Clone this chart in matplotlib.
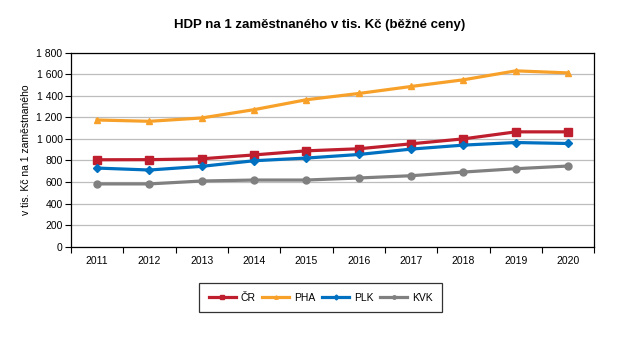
import numpy as np
import matplotlib
matplotlib.use("Agg")
import matplotlib.pyplot as plt
from matplotlib.ticker import FuncFormatter, FixedLocator

plt.rcParams['font.family'] = ['Liberation Sans', 'DejaVu Sans']

years = ['2011', '2012', '2013', '2014', '2015', '2016', '2017', '2018', '2019', '2020']
cr  = [806, 807, 815, 851, 889, 908, 954, 1000, 1065, 1065]
pha = [1175, 1163, 1194, 1271, 1363, 1421, 1486, 1548, 1631, 1612]
plk = [729, 711, 745, 797, 822, 855, 905, 942, 966, 957]
kvk = [582, 582, 609, 618, 618, 637, 658, 692, 723, 748]

series = [
    ('ČR',  cr,  '#BE1E2D', 's', 5.5),
    ('PHA', pha, '#F7A12A', '^', 4),
    ('PLK', plk, '#0070C0', 'D', 4),
    ('KVK', kvk, '#808080', 'o', 5),
]

fig = plt.figure(figsize=(6.39, 3.44), dpi=100)
ax = fig.add_axes([0.111, 0.283, 0.819, 0.564])

x = np.arange(len(years))
handles = []
for name, vals, color, marker, ms in series:
    ax.plot(x, vals, color=color, lw=2.3, marker=marker, ms=ms, zorder=3)
    h, = ax.plot([], [], color=color, lw=2.3, marker=marker, ms=2.5, label=name)
    handles.append(h)

ax.set_xlim(-0.5, len(years) - 0.5)
ax.set_ylim(0, 1800)
ax.set_yticks(np.arange(0, 1801, 200))
ax.yaxis.set_major_formatter(FuncFormatter(lambda v, p: f'{int(v):,}'.replace(',', ' ')))
ax.set_xticks(x)
ax.set_xticklabels(years)
ax.xaxis.set_minor_locator(FixedLocator(np.arange(-0.5, len(years), 1.0)))
ax.tick_params(axis='x', which='major', length=0, labelsize=7.5, pad=7)
ax.tick_params(axis='x', which='minor', length=4, width=0.8, direction='out')
ax.tick_params(axis='y', length=4, width=0.8, labelsize=7.5, pad=2)
ax.yaxis.grid(True, color='#BDBDBD', lw=0.9)
ax.set_axisbelow(True)
for s in ax.spines.values():
    s.set_linewidth(0.9)
    s.set_color('black')

ax.set_ylabel('v tis. Kč na 1 zaměstnaného', fontsize=7.5, labelpad=4)
fig.suptitle('HDP na 1 zaměstnaného v tis. Kč (běžné ceny)', fontsize=9.5,
             fontweight='bold', y=0.927, va='center')

leg = fig.legend(handles=handles, loc='center', bbox_to_anchor=(0.502, 0.135),
                 ncol=4, fontsize=7.5, frameon=True, fancybox=False,
                 edgecolor='black', handlelength=2.6, columnspacing=0.6,
                 handletextpad=0.5, borderpad=0.9)
leg.get_frame().set_linewidth(0.9)

fig.savefig('out.png', dpi=100)
